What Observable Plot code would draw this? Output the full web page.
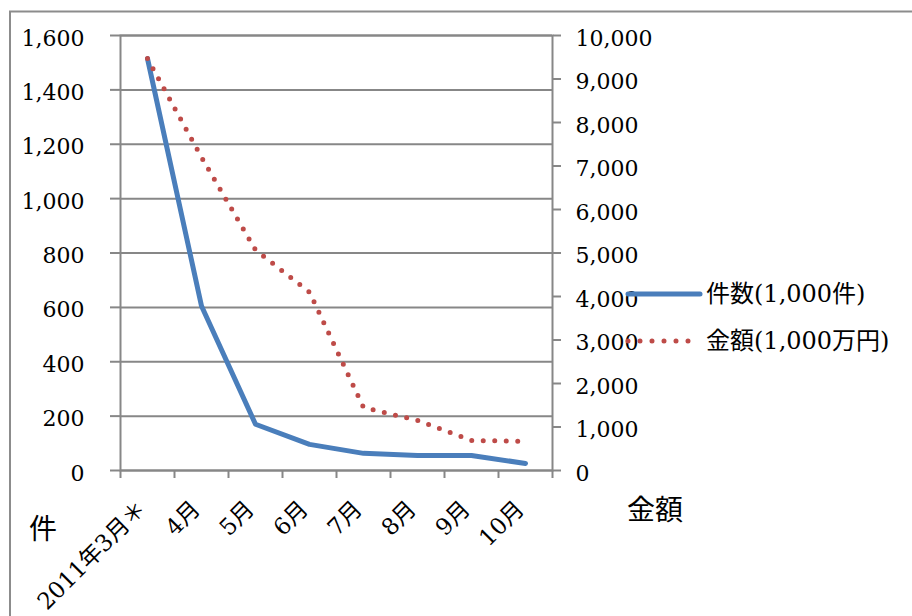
<!DOCTYPE html>
<html>
<head>
<meta charset="utf-8">
<script src="https://cdn.jsdelivr.net/npm/d3@7"></script>
<script src="https://cdn.jsdelivr.net/npm/@observablehq/plot@0.6"></script>
<style>
  body { margin: 0; background: #fff; }
  #chart { position: relative; width: 912px; height: 616px; }
</style>
</head>
<body>
<div id="chart"></div>
<script>
// Monthly figures, March–October 2011
const months = ["2011年3月＊", "4月", "5月", "6月", "7月", "8月", "9月", "10月"];
const counts = [1515, 605, 170, 96, 63, 55, 55, 26];            // 件数 (1,000件)
const amounts = [9470, 7200, 5070, 4100, 1450, 1150, 690, 670];  // 金額 (1,000万円)
const countTicks = [0, 200, 400, 600, 800, 1000, 1200, 1400, 1600];
const amountTicks = [0, 1000, 2000, 3000, 4000, 5000, 6000, 7000, 8000, 9000, 10000];
const seriesNames = ["件数(1,000件)", "金額(1,000万円)"];
const axisTitles = ["件", "金額"];

const countMax = 1600, amountMax = 10000;
const k = countMax / amountMax; // amounts share the left scale, relabelled on the right

const rows = months.map((m, i) => ({i, m, count: counts[i], amount: amounts[i] * k}));
const edges = d3.range(months.length + 1).map(j => j - 0.5);
const fmt = d3.format(",");
const grid = "#878787";
const blue = "#4a7ebb";
const red = "#be4b48";
const font = "'DejaVu Serif', 'Noto Sans CJK JP', serif";

const plot = Plot.plot({
  width: 912,
  height: 616,
  marginLeft: 120,
  marginRight: 360,
  marginTop: 35,
  marginBottom: 146,
  x: {type: "linear", domain: [-0.5, months.length - 0.5], axis: null},
  y: {domain: [0, countMax], axis: null},
  style: {fontFamily: font, fontSize: "22px", color: "black", background: "white", overflow: "visible"},
  marks: [
    Plot.gridY(countTicks, {stroke: grid, strokeOpacity: 1, strokeWidth: 2}),
    Plot.frame({stroke: grid, strokeWidth: 2}),
    // left axis: tick marks, then labels
    Plot.axisY(countTicks, {anchor: "left", tickSize: 10, tickFormat: () => "", stroke: grid, strokeWidth: 2, label: null}),
    Plot.axisY(countTicks, {anchor: "left", tickSize: 0, tickPadding: 36, tickFormat: fmt, fill: "black", fontSize: 22, dy: 3, label: null}),
    // right axis (金額)
    Plot.axisY(amountTicks.map(v => v * k), {anchor: "right", tickSize: 8, tickFormat: () => "", stroke: grid, strokeWidth: 2, label: null}),
    Plot.axisY(amountTicks.map(v => v * k), {anchor: "right", tickSize: 0, tickPadding: 23, tickFormat: d => fmt(Math.round(d / k)), fill: "black", fontSize: 22, dy: 3, label: null}),
    // category boundaries on the x axis
    Plot.axisX(edges, {anchor: "bottom", tickSize: 8, tickFormat: () => "", stroke: grid, strokeWidth: 2, label: null}),
    Plot.text(rows, {x: "i", text: "m", frameAnchor: "bottom", rotate: -45, textAnchor: "end", dx: 0, dy: 40, fontSize: 23, fill: "black"}),
    // series
    Plot.line(rows, {x: "i", y: "count", stroke: blue, strokeWidth: 5}),
    Plot.line(rows, {x: "i", y: "amount", stroke: red, strokeWidth: 5, strokeDasharray: "0 11.5", strokeLinecap: "round"})
  ]
});

const svg = d3.select(plot);

// outer chart border (left and top edges)
svg.append("path")
  .attr("d", "M10,616V11.5H912")
  .attr("fill", "none")
  .attr("stroke", "#8c8c8c")
  .attr("stroke-width", 2);

// legend
const legend = svg.append("g")
  .attr("font-family", font)
  .attr("font-size", 24)
  .attr("text-anchor", "start");
legend.append("line")
  .attr("x1", 628).attr("x2", 700).attr("y1", 294).attr("y2", 294)
  .attr("stroke", blue).attr("stroke-width", 5).attr("stroke-linecap", "round");
legend.append("line")
  .attr("x1", 628).attr("x2", 690).attr("y1", 341).attr("y2", 341)
  .attr("stroke", red).attr("stroke-width", 5).attr("stroke-linecap", "round")
  .attr("stroke-dasharray", "0 12");
legend.selectAll("text.series")
  .data(seriesNames)
  .join("text")
  .attr("class", "series")
  .attr("x", 706)
  .attr("y", (d, i) => 294 + i * 47)
  .attr("dy", "0.35em")
  .attr("fill", "black")
  .text(d => d);

// axis titles
svg.append("text")
  .attr("x", 43).attr("y", 529).attr("dy", "0.35em")
  .attr("text-anchor", "middle")
  .attr("font-family", "'Noto Sans CJK JP', sans-serif").attr("font-size", 28)
  .attr("fill", "black")
  .text(axisTitles[0]);
svg.append("text")
  .attr("x", 655).attr("y", 510).attr("dy", "0.35em")
  .attr("text-anchor", "middle")
  .attr("font-family", "'Noto Sans CJK JP', sans-serif").attr("font-size", 28)
  .attr("fill", "black")
  .text(axisTitles[1]);

document.getElementById("chart").appendChild(plot);
</script>
</body>
</html>
